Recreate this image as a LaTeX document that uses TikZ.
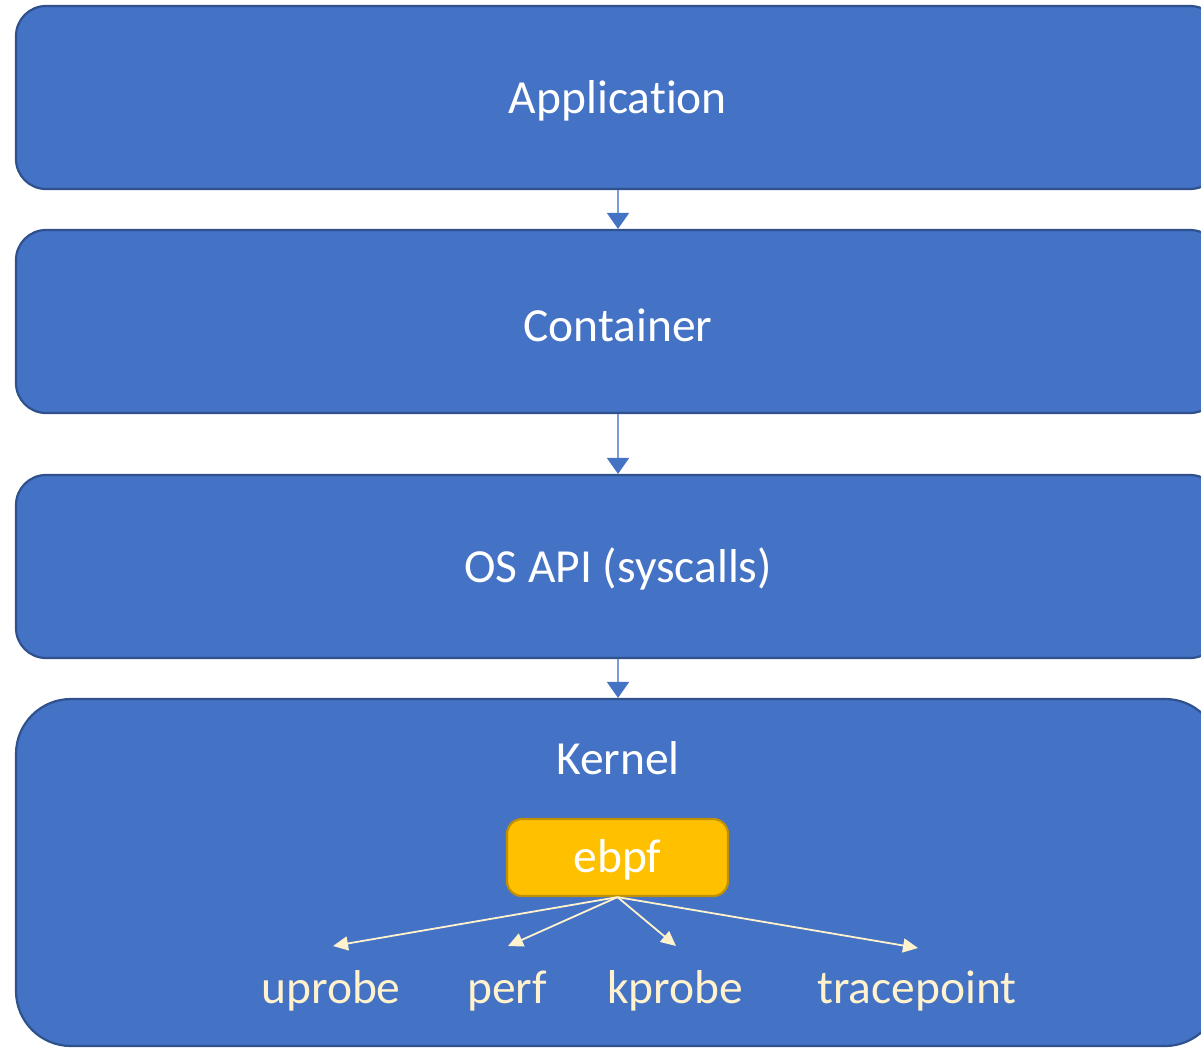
\documentclass[tikz,border=0pt]{standalone}
\usepackage{fontspec}
\setmainfont[Ligatures=NoCommon]{Carlito}
\usetikzlibrary{arrows.meta}
\definecolor{layerblue}{HTML}{4472C4}
\definecolor{layeredge}{HTML}{2F528F}
\definecolor{linkblue}{HTML}{7A9BDB}
\definecolor{ebpfgold}{HTML}{FFC000}
\definecolor{ebpfedge}{HTML}{BF9000}
\definecolor{probecream}{HTML}{FFF2CC}
\tikzset{
  layer/.style={draw=layeredge, line width=2.2pt, fill=layerblue, rounded corners=30pt,
    minimum width=1204pt, minimum height=183pt, inner sep=0pt},
  layertext/.style={text=white, inner sep=0pt, font=\fontsize{47.5}{57}\selectfont},
  ebpfbox/.style={draw=ebpfedge, line width=2.2pt, fill=ebpfgold, rounded corners=15pt,
    minimum width=221pt, minimum height=77pt, inner sep=0pt},
  probe/.style={text=probecream, inner sep=0pt, font=\fontsize{47.5}{57}\selectfont},
  downlink/.style={draw=linkblue, line width=1.8pt,
    -{Triangle[length=16pt,width=22pt,fill=layerblue,color=layerblue]}},
  probelink/.style={draw=probecream, line width=1.8pt,
    -{Triangle[length=15pt,width=14pt,fill=probecream]}}
}
\begin{document}
\begin{tikzpicture}[x=1pt,y=-1pt]
  \useasboundingbox (0,0) rectangle (1201,1047);
  \clip (0,0) rectangle (1201,1047);

  % stacked layers
  \node[layer] (app) at (618,97.5) {};
  \node[layer] (cont) at (618,321.5) {};
  \node[layer] (osapi) at (618,566.5) {};
  \node[layer, rounded corners=55pt, minimum height=347pt] (kernel) at (618,872.5) {};

  \node[layertext] (apptxt) at (618,101) {Application};
  \node[layertext] (conttxt) at (618,325) {Container};
  \node[layertext] (osapitxt) at (618,569) {OS API (syscalls)};
  \node[layertext] (kerneltxt) at (618,758) {Kernel};

  % eBPF and its hook points
  \node[ebpfbox] (ebpf) at (617.5,857.5) {};
  \node[layertext] (ebpftxt) at (617.5,860) {ebpf};
  \node[probe] (uprobe) at (331,991) {uprobe};
  \node[probe] (perf) at (507,991) {perf};
  \node[probe] (kprobe) at (675,991) {kprobe};
  \node[probe] (tracepoint) at (917,991) {tracepoint};

  \coordinate (utip) at (333,946);
  \coordinate (ptip) at (508,946);
  \coordinate (ktip) at (676,946);
  \coordinate (ttip) at (918,948);

  % connectors
  \draw[downlink] (app.south) -- (cont.north);
  \draw[downlink] (cont.south) -- (osapi.north);
  \draw[downlink] (osapi.south) -- (kernel.north);

  \draw[probelink] (ebpf.south) -- (utip);
  \draw[probelink] (ebpf.south) -- (ptip);
  \draw[probelink] (ebpf.south) -- (ktip);
  \draw[probelink] (ebpf.south) -- (ttip);
\end{tikzpicture}
\end{document}
